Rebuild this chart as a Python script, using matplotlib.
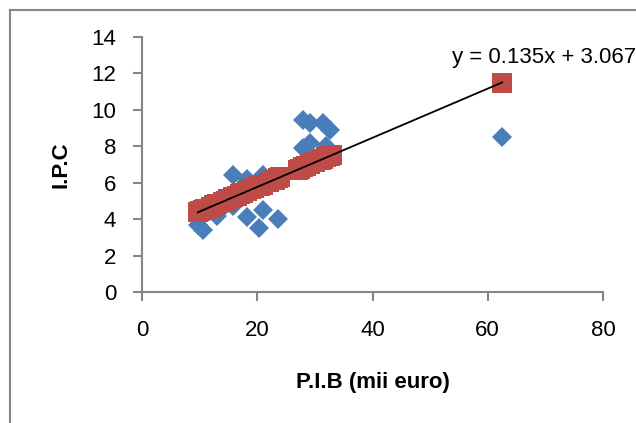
import numpy as np
import matplotlib.pyplot as plt
from matplotlib.lines import Line2D

# P.I.B (mii euro) and I.P.C observed
pib = [9.7, 10.0, 10.5, 11.0, 12.0, 12.5, 13.0, 14.0, 14.5, 15.0, 15.8, 15.8,
       16.5, 17.0, 17.5, 18.2, 18.2, 19.0, 19.5, 20.3, 20.5, 21.0, 21.0, 22.0,
       23.0, 23.6, 24.0, 27.0, 27.5, 28.0, 28.0, 28.5, 29.2, 29.2, 30.0, 31.0,
       31.4, 32.0, 32.6, 33.0, 62.5]
ipc = [3.7, 4.3, 3.4, 4.5, 4.6, 4.9, 4.2, 5.0, 5.1, 4.9, 4.7, 6.4,
       5.3, 5.6, 5.4, 4.1, 6.2, 5.7, 5.6, 3.5, 5.9, 4.5, 6.4, 6.0,
       6.2, 4.0, 6.3, 6.8, 7.0, 9.45, 7.9, 7.0, 9.3, 8.2, 7.2, 7.3,
       9.3, 8.0, 8.9, 7.5, 8.5]
# predicted values (red squares)
ipc_pred = [4.38, 4.42, 4.48, 4.55, 4.69, 4.75, 4.82, 4.96, 5.02, 5.09, 5.20, 5.20,
            5.29, 5.36, 5.43, 5.52, 5.52, 5.63, 5.70, 5.81, 5.83, 5.90, 5.90, 6.04,
            6.17, 6.25, 6.31, 6.71, 6.78, 6.85, 6.85, 6.91, 7.01, 7.01, 7.12, 7.25,
            7.31, 7.39, 7.47, 7.52, 11.50]
slope, intercept = 0.135, 3.067

plt.rcParams['font.family'] = ['Liberation Sans', 'DejaVu Sans']

fig = plt.figure(figsize=(6.36, 4.23), dpi=100)
ax = fig.add_axes([142/636, (423-292)/423, (603-142)/636, (292-37)/423])

ax.plot(pib, ipc, 'D', color='#4a7ebb', markersize=10.5, markeredgewidth=0, zorder=2)
ax.plot(pib, ipc_pred, 's', color='#be4b48', markersize=14.5, markeredgewidth=0, zorder=3)
xl = np.array([min(pib), max(pib)])
ax.plot(xl, slope*xl + intercept, color='black', lw=1.3, zorder=4)

ax.set_xlim(0, 80)
ax.set_ylim(0, 14)
ax.set_xticks([0, 20, 40, 60, 80])
ax.set_yticks(range(0, 15, 2))
for s in ['top', 'right']:
    ax.spines[s].set_visible(False)
for s in ['left', 'bottom']:
    ax.spines[s].set_color('#868686')
    ax.spines[s].set_linewidth(1.5)
ax.tick_params(axis='both', colors='#868686', labelcolor='black', labelsize=16,
               length=6.5, width=1.5)
ax.tick_params(axis='x', pad=14)
ax.tick_params(axis='y', pad=12)

ax.set_xlabel('P.I.B (mii euro)', fontsize=16, fontweight='bold', labelpad=22)
ax.set_ylabel('I.P.C', fontsize=16, fontweight='bold', labelpad=14)

ax.text(544/636, 1 - 57/423, 'y = 0.135x + 3.067', transform=fig.transFigure,
        fontsize=16, ha='center', va='center')

# outer chart border
fig.add_artist(Line2D([10/636, 10/636], [0, 1 - 10/423], transform=fig.transFigure,
                      color='#868686', lw=1.5))
fig.add_artist(Line2D([10/636, 1], [1 - 10/423, 1 - 10/423], transform=fig.transFigure,
                      color='#868686', lw=1.5))

fig.savefig('out.png', dpi=100)
